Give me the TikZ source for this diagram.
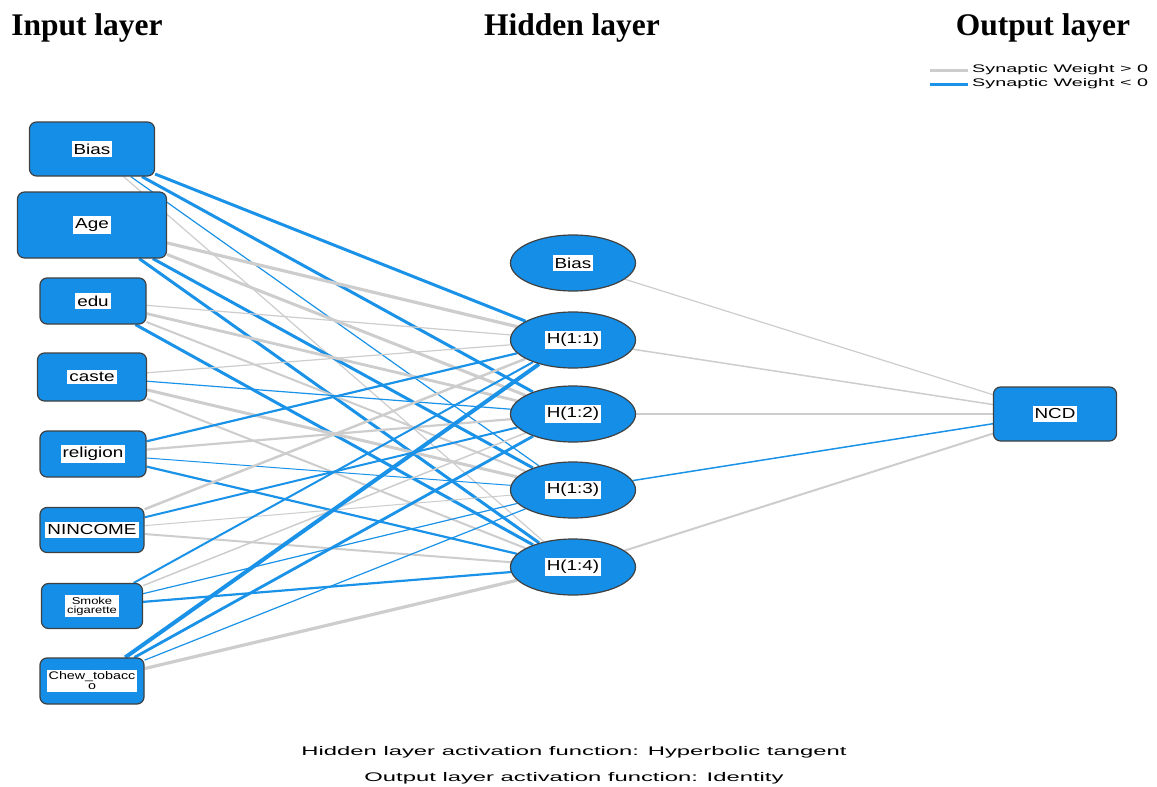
\documentclass[tikz,border=0pt]{standalone}
\usepackage{fontspec}
\setmainfont{Liberation Serif}
\setsansfont{Liberation Sans}
\newfontfamily\spss{Liberation Sans}[FakeStretch=1.3]
\usetikzlibrary{shapes.geometric,backgrounds}
\definecolor{nnblue}{RGB}{20,142,230}
\definecolor{posgray}{RGB}{205,205,205}
\definecolor{negblue}{RGB}{26,146,232}
\begin{document}
\begin{tikzpicture}[x=1pt,y=-1pt,
  box/.style={draw=black!75, line width=1.2pt, fill=nnblue, rounded corners=7pt, inner sep=0pt},
  hid/.style={ellipse, draw=black!75, line width=1.2pt, fill=nnblue, minimum width=125pt, minimum height=56pt, inner sep=0pt},
  lab/.style={fill=white, inner xsep=2pt, inner ysep=2.5pt, text=black, font=\spss\fontsize{14.5}{15}\selectfont},
  smalllab/.style={fill=white, inner sep=2pt, text=black, align=center, font=\spss\fontsize{10}{9}\selectfont},
  wpos/.style={draw=posgray},
  wneg/.style={draw=negblue},
  ttl/.style={font=\bfseries\fontsize{31.5}{33}\selectfont, inner sep=0pt},
]
\useasboundingbox (0,0) rectangle (1157,787);

% titles
\node[ttl] (tIn) at (87,28) {Input layer};
\node[ttl] (tHid) at (572,28) {Hidden layer};
\node[ttl] (tOut) at (1043,28) {Output layer};

% legend
\coordinate (lg1a) at (930,70); \coordinate (lg1b) at (968,70);
\coordinate (lg2a) at (930,84); \coordinate (lg2b) at (968,84);
\draw[wpos, line width=3pt] (lg1a) -- (lg1b);
\draw[wneg, line width=3pt] (lg2a) -- (lg2b);
\node[anchor=west, inner sep=0pt] (lgt1) at (972,70) {\resizebox{176pt}{\height}{\sffamily\fontsize{11}{12}\selectfont Synaptic Weight > 0}};
\node[anchor=west, inner sep=0pt] (lgt2) at (972,84) {\resizebox{176pt}{\height}{\sffamily\fontsize{11}{12}\selectfont Synaptic Weight < 0}};

% input layer
\node[box, minimum width=125pt, minimum height=54pt, label={[lab]center:Bias}] (iBias) at (92,149) {};
\node[box, minimum width=149pt, minimum height=66pt, label={[lab]center:Age}] (iAge) at (92,225) {};
\node[box, minimum width=106pt, minimum height=46pt, label={[lab]center:edu}] (iEdu) at (93,301) {};
\node[box, minimum width=109pt, minimum height=48pt, label={[lab]center:caste}] (iCaste) at (92,377) {};
\node[box, minimum width=106pt, minimum height=46pt, label={[lab]center:religion}] (iRel) at (93,454) {};
\node[box, minimum width=104pt, minimum height=45pt, label={[lab]center:NINCOME}] (iInc) at (92,530) {};
\node[box, minimum width=101pt, minimum height=45pt, label={[smalllab]center:{Smoke\\cigarette}}] (iSmoke) at (92,606) {};
\node[box, minimum width=104pt, minimum height=46pt, label={[smalllab, font=\spss\fontsize{11}{10}\selectfont]center:{Chew\_tobacc\\o}}] (iChew) at (92,681) {};

% hidden layer
\node[hid, label={[lab]center:Bias}] (hBias) at (573,263) {};
\node[hid, label={[lab]center:H(1:1)}] (h1) at (573,340) {};
\node[hid, label={[lab]center:H(1:2)}] (h2) at (573,414) {};
\node[hid, label={[lab]center:H(1:3)}] (h3) at (573,490) {};
\node[hid, label={[lab]center:H(1:4)}] (h4) at (573,567) {};

% output layer
\node[box, minimum width=123pt, minimum height=54pt, label={[lab]center:NCD}] (oNCD) at (1055,414) {};

% captions
\node[inner sep=0pt] (cap1) at (574,752) {\resizebox{545pt}{\height}{\sffamily\fontsize{12.5}{14}\selectfont Hidden layer activation function: Hyperbolic tangent}};
\node[inner sep=0pt] (cap2) at (574,778) {\resizebox{419pt}{\height}{\sffamily\fontsize{12.5}{14}\selectfont Output layer activation function: Identity}};

\begin{scope}[on background layer]
\fill[white] (0,0) rectangle (1157,787);
\foreach \a/\b/\s/\w in {
  iBias/h1/wneg/3.0, iBias/h2/wneg/3.0, iBias/h3/wneg/1.2, iBias/h4/wpos/1.2,
  iAge/h1/wpos/3.2, iAge/h2/wpos/3.0, iAge/h3/wneg/3.0, iAge/h4/wneg/3.0,
  iEdu/h1/wpos/1.2, iEdu/h2/wpos/2.8, iEdu/h3/wpos/2.0, iEdu/h4/wneg/3.0,
  iCaste/h1/wpos/1.2, iCaste/h2/wneg/1.2, iCaste/h3/wpos/3.0, iCaste/h4/wpos/2.0,
  iRel/h1/wneg/2.2, iRel/h2/wpos/2.2, iRel/h3/wneg/1.0, iRel/h4/wneg/2.2,
  iInc/h1/wpos/2.5, iInc/h2/wneg/2.0, iInc/h3/wpos/1.0, iInc/h4/wpos/2.0,
  iSmoke/h1/wneg/2.0, iSmoke/h2/wpos/1.5, iSmoke/h3/wneg/1.2, iSmoke/h4/wneg/2.2,
  iChew/h1/wneg/4.0, iChew/h2/wneg/2.8, iChew/h3/wneg/1.2, iChew/h4/wpos/3.2,
  hBias/oNCD/wpos/1.2, h1/oNCD/wpos/1.5, h2/oNCD/wpos/2.0, h3/oNCD/wneg/1.5, h4/oNCD/wpos/2.0}
  {\draw[\s, line width=\w pt] (\a) -- (\b);}
\end{scope}
\end{tikzpicture}
\end{document}
